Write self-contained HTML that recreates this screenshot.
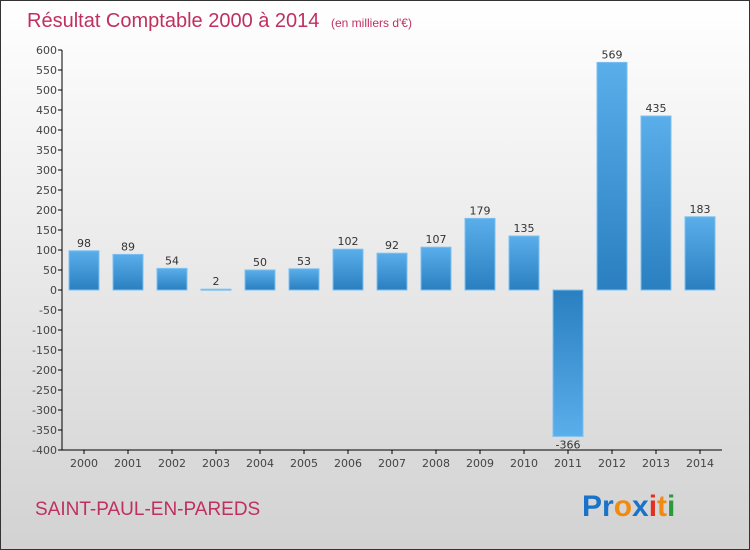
<!DOCTYPE html>
<html><head><meta charset="utf-8"><style>
body{margin:0}
#c{width:750px;height:550px;position:relative;box-sizing:border-box;border:1px solid #333;background:linear-gradient(#ffffff,#d2d2d2);font-family:"DejaVu Sans","Liberation Sans",sans-serif;overflow:hidden}
</style></head><body>
<div id="c">
<svg id="s" width="750" height="550" style="position:absolute;left:-1px;top:-1px">
<defs>
<linearGradient id="gp" x1="0" y1="0" x2="0" y2="1"><stop offset="0" stop-color="#5aaeea"/><stop offset="1" stop-color="#2a7fc0"/></linearGradient>
<linearGradient id="gn" x1="0" y1="0" x2="0" y2="1"><stop offset="0" stop-color="#2a7fc0"/><stop offset="1" stop-color="#5aaeea"/></linearGradient>
</defs>
<text x="27" y="27" font-size="20" fill="#c0305f" font-family="Liberation Sans,sans-serif">Résultat Comptable 2000 à 2014 <tspan font-size="12" dx="6">(en milliers d'€)</tspan></text>
<text x="35" y="515" font-size="19" fill="#c0305f" font-family="Liberation Sans,sans-serif">SAINT-PAUL-EN-PAREDS</text>
<g font-family="Liberation Sans,sans-serif" font-size="30" font-weight="bold">
<text x="582" y="516"><tspan fill="#1a73c8">Pr</tspan><tspan fill="#f08a10">o</tspan><tspan fill="#1a73c8">x</tspan><tspan fill="#e03020">i</tspan><tspan fill="#f08a10">t</tspan><tspan fill="#2a9a3a">i</tspan></text>
</g>
<g id="plot"></g>
</svg>
</div>
<script>
const years=["2000","2001","2002","2003","2004","2005","2006","2007","2008","2009","2010","2011","2012","2013","2014"];
const values=[98,89,54,2,50,53,102,92,107,179,135,-366,569,435,183];
const yTicks=[600,550,500,450,400,350,300,250,200,150,100,50,0,-50,-100,-150,-200,-250,-300,-350,-400];
(function(){
const NS="http://www.w3.org/2000/svg";
const g=document.getElementById('plot');
const x0=62,bw=44,yMin=-400,yMax=600,pTop=50,pBot=450;
const y=v=>pBot-(v-yMin)/(yMax-yMin)*(pBot-pTop);
const xc=i=>x0+bw*i+bw/2;
function el(t,a){const e=document.createElementNS(NS,t);for(const k in a)e.setAttribute(k,a[k]);g.appendChild(e);return e;}
yTicks.forEach(v=>{
 const l=el('line',{x1:x0-4,x2:x0,y1:y(v),y2:y(v),stroke:'#000'});
 
 
 const t=el('text',{x:x0-5,y:y(v)+4,'text-anchor':'end','font-size':11,fill:'#444'});
 t.textContent=v;
 
 
});
values.forEach((v,i)=>{
 const c=xc(i),yt=y(Math.max(v,0)),yb=y(Math.min(v,0));
 const r=el('rect',{x:c-15,y:yt,width:30,height:Math.max(yb-yt,1),fill:v>=0?'url(#gp)':'url(#gn)',stroke:'#7cc0f0','stroke-width':1});
 
 
 const t=el('text',{x:c,y:v>=0?yt-4:yb+12,'text-anchor':'middle','font-size':11,fill:'#333'});
 t.textContent=v;
 
 
 const tk=el('line',{x1:c,x2:c,y1:pBot,y2:pBot+4,stroke:'#000'});
 
 
 const xl=el('text',{x:c,y:pBot+17,'text-anchor':'middle','font-size':11,fill:'#444'});
 xl.textContent=years[i];
 
 
});
const ya=el('line',{x1:x0,x2:x0,y1:pTop,y2:pBot,stroke:'#000'});


const xa=el('line',{x1:x0,x2:x0+bw*15,y1:pBot,y2:pBot,stroke:'#000'});


})();
</script>
</body></html>
